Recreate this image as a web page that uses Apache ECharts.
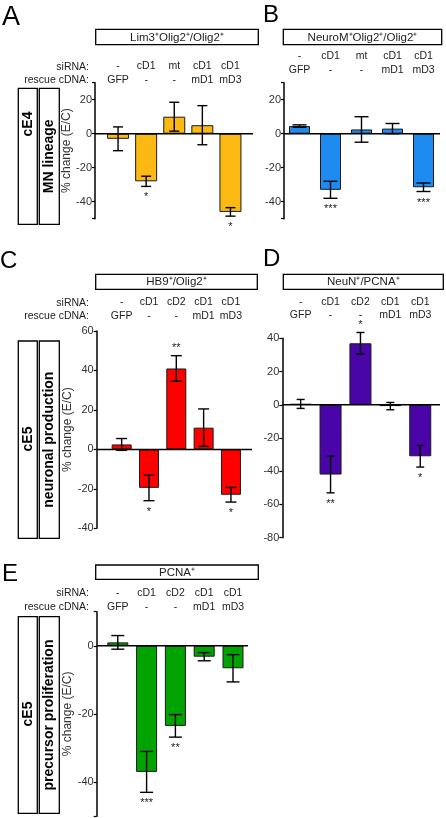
<!DOCTYPE html>
<html><head><meta charset="utf-8">
<script src="https://cdn.jsdelivr.net/npm/echarts@6/dist/echarts.min.js"></script>
<style>html,body{margin:0;padding:0;background:#fff}#c{width:446px;height:818px}</style>
</head><body><div id="c"></div>
<script>
// ---------- data ----------
const siRNA_AB = ['-', 'cD1', 'mt', 'cD1', 'cD1'];
const rescue_AB = ['GFP', '-', '-', 'mD1', 'mD3'];
const siRNA_CDE = ['-', 'cD1', 'cD2', 'cD1', 'cD1'];
const rescue_CDE = ['GFP', '-', '-', 'mD1', 'mD3'];

const valuesA = [-3, -28, 10, 5, -46];
const errorsA = [7, 3, 8.5, 11.5, 2.5];
const starsA = ['', '*', '', '', '*'];

const valuesB = [4.5, -33, 2.5, 3, -31.5];
const errorsB = [0.7, 5, 7.5, 3, 2.5];
const starsB = ['', '***', '', '', '***'];

const valuesC = [2.5, -19.5, 41, 11, -23];
const errorsC = [3, 6.5, 6.5, 9.5, 3.7];
const starsC = ['', '*', '**', '', '*'];

const valuesD = [0.5, -42, 37, -0.8, -31];
const errorsD = [2.7, 11, 6.5, 2.2, 6.5];
const starsD = ['', '**', '*', '', '*'];

const valuesE = [1, -37, -23.5, -3.2, -6.6];
const errorsE = [2, 6, 3.3, 1.2, 4];
const starsE = ['', '***', '**', '', ''];

const ticksAB = [-50, -40, -20, 0, 20, 30];
const labelsAB = [-40, -20, 0, 20];
const ticksC = [-40, -20, 0, 20, 40, 60];
const ticksD = [-80, -60, -40, -20, 0, 20, 40];
const ticksE = [-50, -40, -20, 0, 10];
const labelsE = [-40, -20, 0];

const titles = ['Lim3\u207AOlig2\u207A/Olig2\u207A', 'NeuroM\u207AOlig2\u207A/Olig2\u207A', 'HB9\u207A/Olig2\u207A', 'NeuN\u207A/PCNA\u207A', 'PCNA\u207A'];
const yName = '% change (E/C)';

// ---------- layout ----------
const FONT = '"Liberation Sans", Arial, sans-serif';
const panels = [
  {values: valuesA, errors: errorsA, stars: starsA, sirna: siRNA_AB, rescue: rescue_AB, color: '#FDB913',
   min: -50, max: 30, ticks: ticksAB, labels: labelsAB,
   grid: {left: 104, top: 82.7, width: 140.5, height: 136}, offset: 9, barWidth: 22, cap: 5, baseEnd: 253, labelMargin: -4, name: true},
  {values: valuesB, errors: errorsB, stars: starsB, sirna: siRNA_AB, rescue: rescue_AB, color: '#1E8BF0',
   min: -50, max: 30, ticks: ticksAB, labels: labelsAB,
   grid: {left: 284, top: 82.7, width: 155, height: 136}, offset: 0, barWidth: 21, cap: 7, baseEnd: 440, labelMargin: 6, name: false},
  {values: valuesC, errors: errorsC, stars: starsC, sirna: siRNA_CDE, rescue: rescue_CDE, color: '#FF0000',
   min: -40, max: 60, ticks: ticksC, labels: ticksC,
   grid: {left: 108, top: 331, width: 136.6, height: 197.3}, offset: 11.3, barWidth: 20, cap: 5.5, baseEnd: 252, labelMargin: 8.6, name: true},
  {values: valuesD, errors: errorsD, stars: starsD, sirna: siRNA_CDE, rescue: rescue_CDE, color: '#4A05A8',
   min: -80, max: 40, ticks: ticksD, labels: ticksD,
   grid: {left: 285.7, top: 338.3, width: 149.5, height: 199.4}, offset: 3.4, barWidth: 22, cap: 4, baseEnd: 440, labelMargin: 16, name: false},
  {values: valuesE, errors: errorsE, stars: starsE, sirna: siRNA_CDE, rescue: rescue_CDE, color: '#00A300',
   min: -50, max: 10, ticks: ticksE, labels: labelsE,
   grid: {left: 103.4, top: 611.7, width: 144, height: 204.5}, offset: 6.7, barWidth: 21, cap: 6.5, baseEnd: 248, labelMargin: -1.7, name: true}
];

const grids = [], xAxes = [], yAxes = [], series = [];
panels.forEach((p, i) => {
  grids.push(p.grid);
  xAxes.push({
    gridIndex: i, type: 'category', position: 'top',
    data: p.sirna.map((s, k) => s + '\n' + p.rescue[k]),
    axisLine: {show: false, onZero: false}, axisTick: {show: false},
    axisLabel: {interval: 0, margin: p.labelMargin, fontSize: 10.5, lineHeight: 13.4, color: '#222', fontFamily: FONT}
  });
  yAxes.push({
    gridIndex: i, type: 'value', min: p.min, max: p.max, offset: p.offset,
    splitLine: {show: false},
    axisLine: {show: true, lineStyle: {color: '#000', width: 1.5}},
    axisTick: {show: true, length: 3, customValues: p.ticks, lineStyle: {color: '#000', width: 1.2}},
    axisLabel: {customValues: p.labels, fontSize: 11, color: '#333', margin: 3, fontFamily: FONT},
    name: p.name ? yName : '', nameLocation: 'middle', nameGap: 21,
    nameTextStyle: {fontSize: 12, color: '#333', fontFamily: FONT}
  });
  series.push({
    type: 'bar', xAxisIndex: i, yAxisIndex: i, data: p.values, barWidth: p.barWidth,
    itemStyle: {color: p.color, borderColor: '#1a1a1a', borderWidth: 1}, z: 2
  });
  series.push({
    type: 'custom', xAxisIndex: i, yAxisIndex: i, z: 4,
    data: p.values.map((v, k) => [k, v, p.errors[k]]),
    renderItem: (params, api) => {
      const k = api.value(0), v = api.value(1), e = api.value(2);
      const t = api.coord([k, v + e]), b = api.coord([k, v - e]);
      const x = t[0], hw = p.cap;
      const st = {stroke: '#000', lineWidth: 1.4};
      const children = [
        {type: 'line', shape: {x1: x, y1: t[1], x2: x, y2: b[1]}, style: st},
        {type: 'line', shape: {x1: x - hw, y1: t[1], x2: x + hw, y2: t[1]}, style: st},
        {type: 'line', shape: {x1: x - hw, y1: b[1], x2: x + hw, y2: b[1]}, style: st}
      ];
      const s = p.stars[params.dataIndex];
      if (s) {
        const y = v < 0 ? b[1] + 11 : t[1] - 7.5;
        children.push({type: 'text', style: {text: s, x: x, y: y, align: 'center', verticalAlign: 'middle', fontSize: 11, fill: '#222', font: '11px ' + FONT}});
      }
      return {type: 'group', children};
    }
  });
  series.push({
    type: 'custom', xAxisIndex: i, yAxisIndex: i, z: 5,
    data: [[0, 0]],
    renderItem: (params, api) => {
      const cs = params.coordSys;
      const y0 = api.coord([0, 0])[1];
      return {type: 'line', shape: {x1: cs.x - p.offset, y1: y0, x2: p.baseEnd, y2: y0}, style: {stroke: '#000', lineWidth: 1.5}};
    }
  });
});

// ---------- annotations ----------
const g = [];
function txt(x, y, text, opt) {
  g.push(Object.assign({type: 'text', x: x, y: y, style: Object.assign({text: text, fill: '#222', font: '11px ' + FONT, align: 'center', verticalAlign: 'middle'}, opt || {})}));
}
function box(x, y, w, h) {
  g.push({type: 'rect', shape: {x: x, y: y, width: w, height: h}, style: {fill: 'none', stroke: '#000', lineWidth: 1.3}});
}
// panel letters
[['A', 2, 18, 27], ['B', 263, 15, 24], ['C', 0, 261, 24], ['D', 263, 259, 24], ['E', 2, 574, 24]].forEach(l =>
  txt(l[1], l[2], l[0], {align: 'left', font: l[3] + 'px ' + FONT, fill: '#000'}));
// header boxes
[[95.7, 29.3, 162.6, 15.4, 0], [283.3, 29.3, 158.4, 15.4, 1], [95.7, 274.3, 161.6, 15, 2], [283.3, 274.3, 160, 15, 3], [95.7, 565, 162.6, 14.3, 4]].forEach(h => {
  box(h[0], h[1], h[2], h[3]);
  txt(h[0] + h[2] / 2, h[1] + h[3] / 2 + 0.5, titles[h[4]], {font: '11.5px ' + FONT});
});
// row labels
[[66.7, 80], [303, 315.7], [593.3, 606.7]].forEach(r => {
  txt(89, r[0], 'siRNA:', {align: 'right', font: '10.5px ' + FONT});
  txt(89, r[1], 'rescue cDNA:', {align: 'right', font: '10.5px ' + FONT});
});
// vertical side boxes
const side = [
  {y: 88.3, h: 136, a: 'cE4', ay: 124, b: 'MN lineage'},
  {y: 341, h: 197.3, a: 'cE5', ay: 439, b: 'neuronal production'},
  {y: 616.7, h: 196.6, a: 'cE5', ay: 714, b: 'precursor proliferation'}
];
side.forEach(s => {
  box(18.3, s.y, 19, s.h);
  box(39.3, s.y, 20, s.h);
  g.push({type: 'text', x: 28, y: s.ay, rotation: Math.PI / 2,
    style: {text: s.a, font: 'bold 14px ' + FONT, fill: '#000', align: 'center', verticalAlign: 'middle'}});
  g.push({type: 'text', x: 49.5, y: s.y + s.h / 2, rotation: Math.PI / 2,
    style: {text: s.b, font: 'bold 14px ' + FONT, fill: '#000', align: 'center', verticalAlign: 'middle'}});
});

const chart = echarts.init(document.getElementById('c'), null, {renderer: 'canvas'});
chart.setOption({
  animation: false,
  backgroundColor: '#fff',
  textStyle: {fontFamily: FONT},
  grid: grids, xAxis: xAxes, yAxis: yAxes, series: series,
  graphic: g
});
</script></body></html>
